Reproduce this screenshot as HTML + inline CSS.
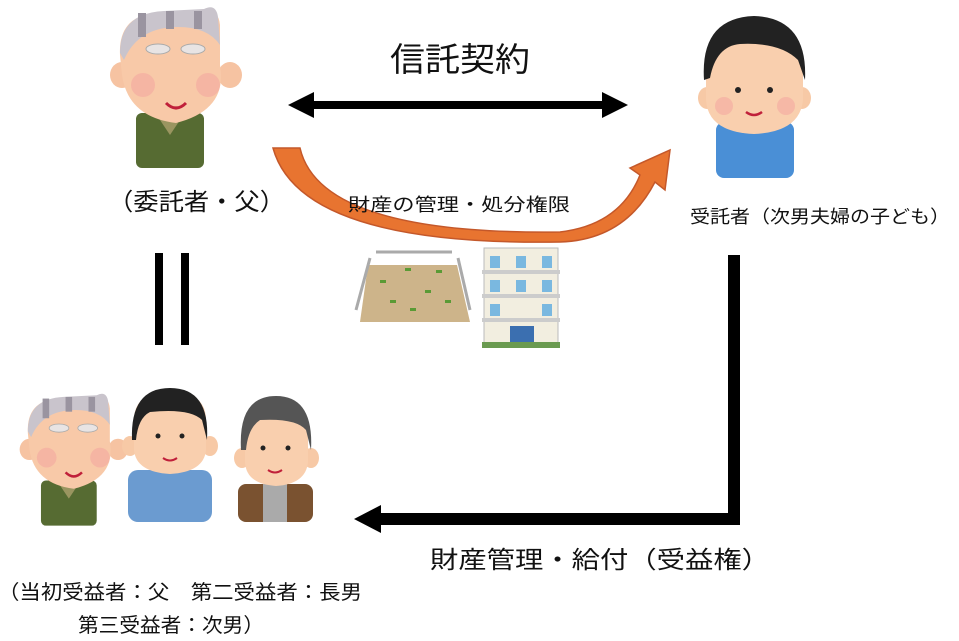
<!DOCTYPE html>
<html><head><meta charset="utf-8"><style>
html,body{margin:0;padding:0;background:#fff;}
svg{display:block;font-family:"Liberation Sans","Noto Sans CJK JP",sans-serif;}
</style></head><body>
<svg width="959" height="641" viewBox="0 0 959 641" xmlns="http://www.w3.org/2000/svg">
<defs>
<g id="oldman">
  <rect x="28" y="108" width="68" height="55" rx="6" fill="#566b32"/>
  <path d="M50 112 L62 130 L74 112 Z" fill="#9a9560"/>
  <ellipse cx="14" cy="70" rx="12" ry="13" fill="#f6c3a2"/>
  <ellipse cx="122" cy="70" rx="12" ry="13" fill="#f6c3a2"/>
  <path d="M12 50 Q10 10 50 8 L88 6 Q110 0 112 20 L112 60 Q120 105 68 118 Q20 112 14 70 Z" fill="#f8c9a8"/>
  <path d="M12 48 Q12 8 56 6 L96 4 Q108 -2 110 12 L112 40 Q100 22 70 22 Q30 22 16 55 Z" fill="#c9c4cc"/>
  <rect x="30" y="8" width="8" height="24" fill="#9a94a0"/><rect x="58" y="6" width="8" height="18" fill="#9a94a0"/><rect x="86" y="6" width="8" height="18" fill="#9a94a0"/>
  <ellipse cx="50" cy="44" rx="12" ry="5" fill="#e8e4e4" stroke="#aaa"/>
  <ellipse cx="85" cy="44" rx="12" ry="5" fill="#e8e4e4" stroke="#aaa"/>
  <circle cx="35" cy="80" r="12" fill="#f4a9a0" opacity=".6"/><circle cx="100" cy="80" r="12" fill="#f4a9a0" opacity=".6"/>
  <path d="M58 98 Q68 108 78 98" stroke="#c0203a" stroke-width="3" fill="none"/>
</g>
</defs>

<g transform="translate(108,5)"><use href="#oldman"/></g>

<g>
  <rect x="716" y="122" width="78" height="56" rx="8" fill="#4a8fd6"/>
  <ellipse cx="707" cy="98" rx="9" ry="11" fill="#f7c9a6"/>
  <ellipse cx="802" cy="98" rx="9" ry="11" fill="#f7c9a6"/>
  <path d="M706 70 Q706 20 754 20 Q803 20 803 70 L803 100 Q800 132 754 134 Q708 132 706 100 Z" fill="#f9cfae"/>
  <path d="M704 80 Q700 18 754 16 Q808 18 805 80 L798 60 Q780 42 740 44 Q716 46 710 78 Z" fill="#222"/>
  <circle cx="738" cy="90" r="3" fill="#222"/><circle cx="770" cy="90" r="3" fill="#222"/>
  <circle cx="724" cy="106" r="9" fill="#f4a9a0" opacity=".6"/><circle cx="786" cy="106" r="9" fill="#f4a9a0" opacity=".6"/>
  <path d="M746 112 Q754 118 762 112" stroke="#c0203a" stroke-width="2.5" fill="none"/>
</g>

<text x="390" y="71" font-size="33" textLength="140" lengthAdjust="spacingAndGlyphs" fill="#111">信託契約</text>
<rect x="310" y="101" width="296" height="8" fill="#000"/>
<path d="M288 105 L314 92 L314 118 Z" fill="#000"/>
<path d="M628 105 L602 92 L602 118 Z" fill="#000"/>

<path d="M273 148 L300 148 Q320 235 560 232 Q620 225 640 175 L630 168 L670 150 L665 190 L655 182 Q625 240 560 242 Q300 246 273 148 Z" fill="#e87430" stroke="#c4582a" stroke-width="1.5"/>

<text x="108" y="210" font-size="24" textLength="177" lengthAdjust="spacingAndGlyphs" fill="#111">（委託者・父）</text>
<text x="348" y="211" font-size="18" textLength="222" lengthAdjust="spacingAndGlyphs" fill="#111">財産の管理・処分権限</text>
<text x="690" y="223" font-size="18" textLength="260" lengthAdjust="spacingAndGlyphs" fill="#111">受託者（次男夫婦の子ども）</text>

<g>
  <path d="M368 265 L457 265 L470 322 L360 322 Z" fill="#cdb48a"/>
  <path d="M376 252 L452 252 M370 258 L356 310 M458 258 L470 310" stroke="#aaa" stroke-width="3" fill="none"/>
  <g fill="#5a9a35"><rect x="380" y="280" width="6" height="3"/><rect x="405" y="268" width="6" height="3"/><rect x="436" y="270" width="6" height="3"/><rect x="425" y="290" width="6" height="3"/><rect x="390" y="300" width="6" height="3"/><rect x="445" y="300" width="6" height="3"/><rect x="410" y="308" width="6" height="3"/></g>
</g>
<g>
  <rect x="484" y="248" width="74" height="98" fill="#f2eee0" stroke="#bbb"/>
  <g fill="#7ab8e0"><rect x="490" y="256" width="10" height="12"/><rect x="516" y="256" width="10" height="12"/><rect x="542" y="256" width="10" height="12"/>
  <rect x="490" y="280" width="10" height="12"/><rect x="516" y="280" width="10" height="12"/><rect x="542" y="280" width="10" height="12"/>
  <rect x="490" y="304" width="10" height="12"/><rect x="542" y="304" width="10" height="12"/></g>
  <rect x="482" y="270" width="78" height="4" fill="#ccc"/><rect x="482" y="294" width="78" height="4" fill="#ccc"/><rect x="482" y="318" width="78" height="4" fill="#ccc"/>
  <rect x="510" y="326" width="24" height="20" fill="#3b6fb0"/>
  <rect x="482" y="342" width="78" height="6" fill="#6a9a50"/>
</g>

<rect x="155" y="253" width="8" height="92" fill="#000"/>
<rect x="181" y="253" width="8" height="92" fill="#000"/>

<rect x="728" y="255" width="12" height="270" fill="#000"/>
<rect x="378" y="513" width="362" height="12" fill="#000"/>
<path d="M354 519 L381 505 L381 533 Z" fill="#000"/>

<g transform="translate(18,392) scale(0.82)"><use href="#oldman"/></g>
<g>
  <rect x="128" y="470" width="84" height="52" rx="10" fill="#6b9bd0"/>
  <ellipse cx="130" cy="446" rx="8" ry="10" fill="#f7c9a6"/><ellipse cx="210" cy="446" rx="8" ry="10" fill="#f7c9a6"/>
  <path d="M134 420 Q134 392 170 392 Q206 392 206 420 L206 450 Q204 472 170 474 Q136 472 134 450 Z" fill="#f9cfae"/>
  <path d="M132 440 Q130 388 170 388 Q210 388 207 440 L202 420 Q190 408 150 412 Q138 418 136 440 Z" fill="#222"/>
  <circle cx="158" cy="436" r="2.5" fill="#222"/><circle cx="182" cy="436" r="2.5" fill="#222"/>
  <path d="M163 458 Q170 463 177 458" stroke="#c0203a" stroke-width="2" fill="none"/>
</g>
<g>
  <rect x="238" y="484" width="75" height="38" rx="8" fill="#7a5230"/>
  <rect x="263" y="484" width="24" height="38" fill="#aaa"/>
  <ellipse cx="242" cy="458" rx="8" ry="10" fill="#f7c9a6"/><ellipse cx="311" cy="458" rx="8" ry="10" fill="#f7c9a6"/>
  <path d="M245 430 Q245 402 276 402 Q308 402 308 430 L308 462 Q306 484 276 486 Q246 484 245 462 Z" fill="#f9cfae"/>
  <path d="M241 450 Q238 396 276 396 Q314 396 311 450 L306 430 Q296 418 260 420 Q248 428 246 450 Z" fill="#555"/>
  <circle cx="263" cy="448" r="2.5" fill="#222"/><circle cx="288" cy="448" r="2.5" fill="#222"/>
  <path d="M268 470 Q275 475 282 470" stroke="#c0203a" stroke-width="2" fill="none"/>
</g>

<text x="430" y="568" font-size="24" textLength="340" lengthAdjust="spacingAndGlyphs" fill="#111">財産管理・給付（受益権）</text>
<text x="-2" y="599" font-size="20" textLength="364" lengthAdjust="spacingAndGlyphs" fill="#111">（当初受益者：父　第二受益者：長男</text>
<text x="78" y="632" font-size="20" textLength="186" lengthAdjust="spacingAndGlyphs" fill="#111">第三受益者：次男）</text>
</svg>
</body></html>
